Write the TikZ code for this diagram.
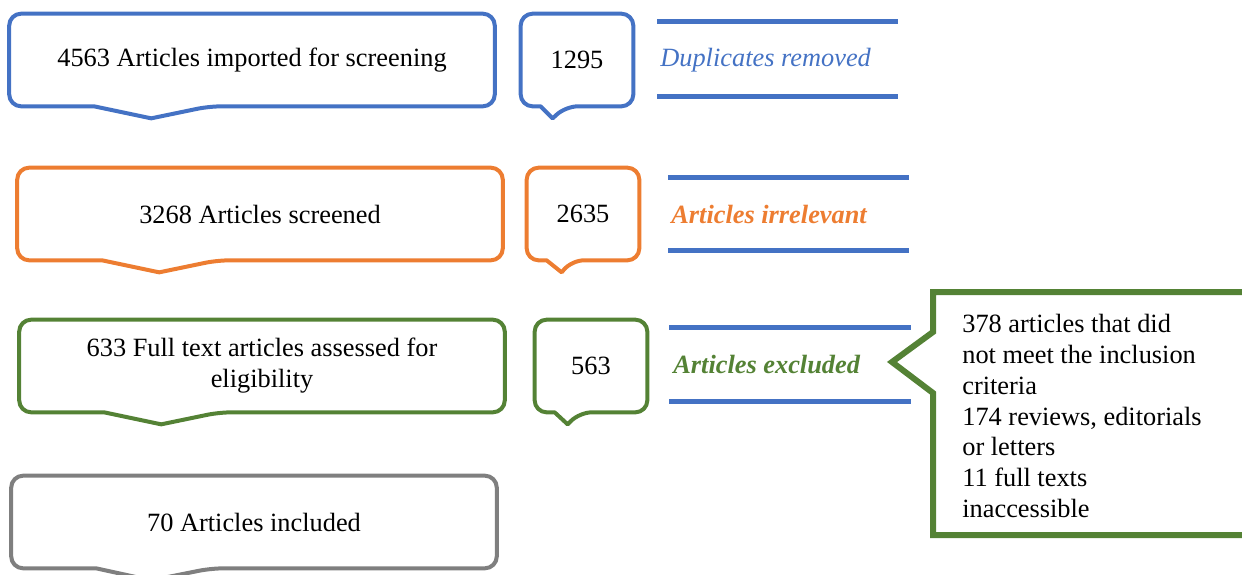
\documentclass[tikz,border=0pt]{standalone}
\usepackage{fontspec}
\setmainfont{Liberation Serif}
\newfontfamily\timesfont{Liberation Serif}
\usetikzlibrary{positioning}

\definecolor{prisblue}{HTML}{4472C4}
\definecolor{prisorange}{HTML}{ED7D31}
\definecolor{prisgreen}{HTML}{548235}
\definecolor{prisgray}{HTML}{7F7F7F}

\newcommand{\boxfont}{\timesfont\fontsize{15}{17.6}\selectfont}

\tikzset{
  stage/.style={minimum width=9.7cm, minimum height=1.84cm, inner sep=0pt, align=center, font=\boxfont},
  count/.style={minimum width=2.24cm, minimum height=1.84cm, inner sep=0pt, font=\boxfont},
  reason/.style={anchor=west, inner sep=0pt, font=\boxfont},
  rule/.style={prisblue, line width=0.1cm},
}

% outline of a speech bubble round a node: colour, pointer base left, tip, base right
\newcommand{\bubble}[5]{%
  \draw[#2, line width=0.08cm, line join=round]
    ([shift={(#4,12)}]#1.south west) -- ([shift={(#3,0)}]#1.south west)
    [rounded corners=0.24cm] -- (#1.south west) -- (#1.north west) -- (#1.north east)
    -- (#1.south east) -- ([shift={(#5,0)}]#1.south west) [sharp corners] -- cycle;}

\begin{document}
\begin{tikzpicture}[x=0.02cm, y=-0.02cm]
  \useasboundingbox (0,0) rectangle (1242,575);

  % Imported
  \node[stage] (imported) at (252,60) {4563 Articles imported for screening};
  \node[count] (dupl) at (577,60) {1295};
  \bubble{imported}{prisblue}{85}{142}{200}
  \bubble{dupl}{prisblue}{20}{32}{45}
  \draw[rule] (657,21) -- (898,21);
  \draw[rule] (657,96) -- (898,96);
  \node[reason, prisblue] (dupltxt) at (660,60) {\itshape Duplicates removed};

  % Screened
  \node[stage] (screened) at (260,214) {3268 Articles screened};
  \node[count] (irrel) at (583,214) {2635};
  \bubble{screened}{prisorange}{85}{142}{200}
  \bubble{irrel}{prisorange}{20}{35}{45}
  \draw[rule] (668,177) -- (909,177);
  \draw[rule] (668,250) -- (909,250);
  \node[reason, prisorange] (irreltxt) at (671,214) {\bfseries\itshape Articles irrelevant};

  % Eligibility
  \node[stage] (assessed) at (262,366) {633 Full text articles assessed for\\eligibility};
  \node[count] (excl) at (591,366) {563};
  \bubble{assessed}{prisgreen}{85}{142}{200}
  \bubble{excl}{prisgreen}{20}{33}{45}
  \draw[rule] (669,327) -- (911,327);
  \draw[rule] (669,401) -- (911,401);
  \node[reason, prisgreen] (excltxt) at (673,365) {\bfseries\itshape Articles excluded};

  % Reasons for exclusion
  \node[reason, align=left] (reasons) at (962,416) {378 articles that did\\not meet the inclusion\\criteria\\174 reviews, editorials\\or letters\\11 full texts\\inaccessible};
  \draw[prisgreen, line width=0.12cm] (933,292) -- (1248,292) -- (1248,535) -- (933,535)
    -- (933,393) -- (892,362) -- (933,332) -- cycle;

  % Included
  \node[stage] (included) at (254,522) {70 Articles included};
  \bubble{included}{prisgray}{85}{140}{200}
\end{tikzpicture}
\end{document}
